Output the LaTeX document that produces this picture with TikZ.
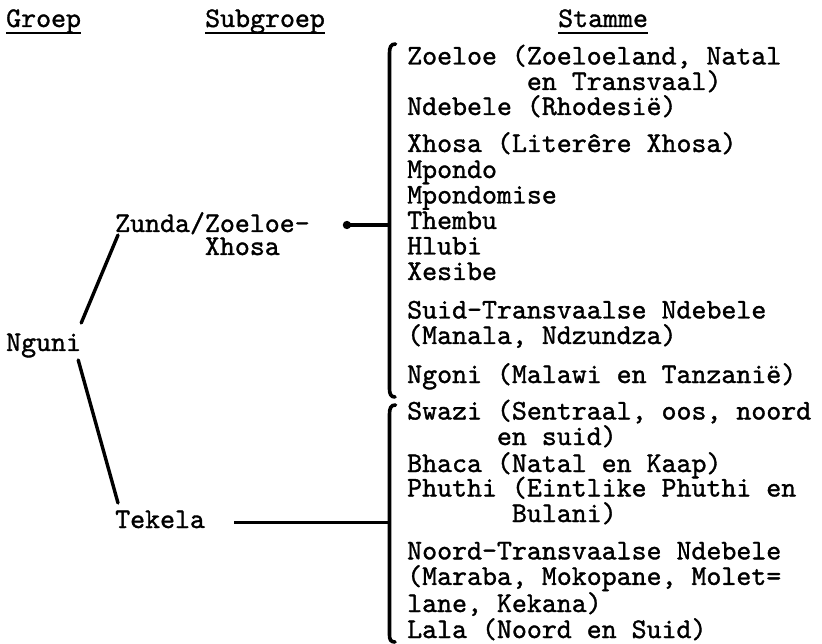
\documentclass[tikz,border=0pt]{standalone}
\usepackage{fontspec}
\newfontfamily\tikmono{lmmono10-regular}[Extension=.otf, FakeBold=1.2]
\usetikzlibrary{arrows.meta, calc}
\tikzset{stam/.style={font=\tikmono\fontsize{28.5}{25.5}\selectfont\frenchspacing, inner sep=0pt, anchor=base west, align=left}}
\tikzset{kop/.style={stam, text depth=6pt}}
\tikzset{onder/.style={line width=1.4pt}}
\tikzset{tak/.style={line width=3.4pt, line cap=round}}
\tikzset{hakie/.style={line width=3.6pt, line cap=round}}
\tikzset{lyn/.style={line width=3pt}}

\begin{document}
\begin{tikzpicture}[x=1pt,y=-1pt]
    \useasboundingbox (0,0) rectangle (822,644);

    % opskrifte
    \node (groep)    [kop] at (6,27)   {Groep};
    \node (subgroep) [kop] at (205,27) {Subgroep};
    \node (stamme)   [kop] at (558,27) {Stamme};
    \draw [onder] (groep.south west) -- (groep.south east);
    \draw [onder] (subgroep.south west) -- (subgroep.south east);
    \draw [onder] (stamme.south west) -- (stamme.south east);

    % groep en subgroepe
    \node (nguni)  [stam] at (6,351)   {Nguni};
    \node (zunda)  [stam] at (115,255) {Zunda/Zoeloe-\\[-2.5pt]\phantom{Zunda/}Xhosa};
    \node (tekela) [stam] at (115,528) {Tekela};

    % stamme: Zunda
    \node (zoeloe)     [stam] at (407,90)  {Zoeloe (Zoeloeland, Natal\\\phantom{Zoeloe (}en Transvaal)};
    \node (ndebele)    [stam] at (407,115) {Ndebele (Rhodesië)};
    \node (xhosa)      [stam] at (407,152) {Xhosa (Literêre Xhosa)};
    \node (mpondo)     [stam] at (407,178) {Mpondo};
    \node (mpondomise) [stam] at (407,203.5) {Mpondomise};
    \node (thembu)     [stam] at (407,229) {Thembu};
    \node (hlubi)      [stam] at (407,254.5) {Hlubi};
    \node (xesibe)     [stam] at (407,280) {Xesibe};
    \node (suidnd)     [stam] at (407,344) {Suid-Transvaalse Ndebele\\(Manala, Ndzundza)};
    \node (ngoni)      [stam] at (407,383) {Ngoni (Malawi en Tanzanië)};

    % stamme: Tekela
    \node (swazi)   [stam] at (407,445) {Swazi (Sentraal, oos, noord\\\phantom{Swazi }en suid)};
    \node (bhaca)   [stam] at (407,472) {Bhaca (Natal en Kaap)};
    \node (phuthi)  [stam] at (407,522) {Phuthi (Eintlike Phuthi en\\\phantom{Phuthi }Bulani)};
    \node (noordnd) [stam] at (407,612) {Noord-Transvaalse Ndebele\\(Maraba, Mokopane, Molet=\\lane, Kekana)};
    \node (lala)    [stam] at (407,638) {Lala (Noord en Suid)};

    % hakies
    \draw [hakie] (395.5,44) .. controls (391,44) and (389.5,47) .. (389.5,53)
                  -- (389.5,389) .. controls (389.5,394) and (391,397) .. (395,397);
    \draw [hakie] (395.5,405) .. controls (391,405) and (389.5,408) .. (389.5,414)
                  -- (389.5,635) .. controls (389.5,640) and (391,642) .. (395,642);
    \coordinate (zhakie) at (389.5,225);
    \coordinate (thakie) at (389.5,522);

    % verbindings
    \draw [tak] ([yshift=28pt]nguni.base east) -- ([xshift=3pt,yshift=20pt]zunda.base west);
    \draw [tak] ([xshift=-3pt,yshift=-9pt]nguni.base east) -- ([xshift=3pt,yshift=25pt]tekela.base west);
    \draw [line width=4.6pt, {Circle[length=8pt]}-] ([xshift=33pt,yshift=30pt]zunda.base east) -- (zhakie);
    \draw [lyn] ([xshift=29pt,yshift=6pt]tekela.base east) -- (thakie);

\end{tikzpicture}
\end{document}
